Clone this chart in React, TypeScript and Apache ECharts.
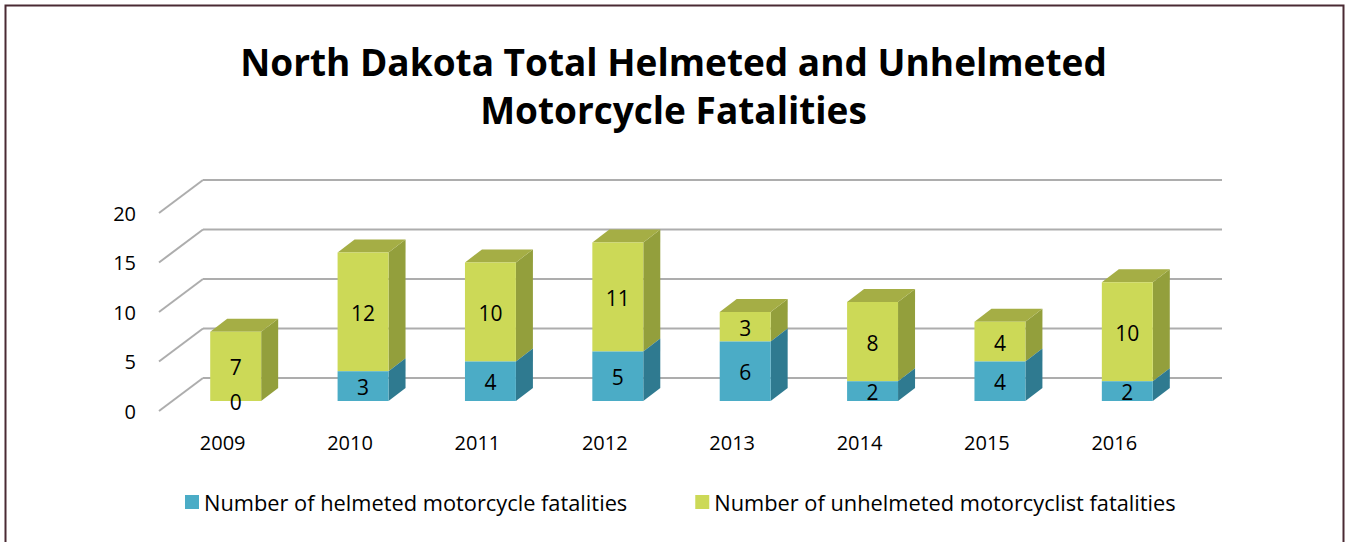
import React, { useEffect, useRef } from "react";
import * as echarts from "echarts";

const years = ["2009", "2010", "2011", "2012", "2013", "2014", "2015", "2016"];
const helmeted = [0, 3, 4, 5, 6, 2, 4, 2];
const unhelmeted = [7, 12, 10, 11, 3, 8, 4, 10];
const yTicks = [0, 5, 10, 15, 20];
const seriesNames = [
  "Number of helmeted motorcycle fatalities",
  "Number of unhelmeted motorcyclist fatalities",
];
const titleText = "North Dakota Total Helmeted and Unhelmeted\nMotorcycle Fatalities";

const FONT = "'Open Sans', 'Noto Sans', sans-serif";
const DEPTH_X = 17;
const DEPTH_Y = -13;
const BACK_DX = 31;
const BACK_DY = -23;
const FRONT_DX = -13;
const FRONT_DY = 10;

const palettes = [
  { front: "#4bacc6", side: "#2f7a90", top: "#3a92ab" },
  { front: "#ccd957", side: "#939f3c", top: "#a5ae45" },
];

function makeBarRender(seriesIdx: number) {
  return (params: any, api: any) => {
    const cat = api.value(0);
    const base = api.value(1);
    const val = api.value(2);
    const p0 = api.coord([cat, base]);
    const p1 = api.coord([cat, base + val]);
    const w = api.size([1, 0])[0] * 0.4;
    const xl = p0[0] - w / 2;
    const xr = p0[0] + w / 2;
    const yb = p0[1];
    const yt = p1[1];
    const pal = palettes[seriesIdx];
    const children: any[] = [];
    if (val > 0) {
      children.push({
        type: "polygon",
        shape: {
          points: [
            [xr, yt],
            [xr + DEPTH_X, yt + DEPTH_Y],
            [xr + DEPTH_X, yb + DEPTH_Y],
            [xr, yb],
          ],
        },
        style: { fill: pal.side },
      });
      if (seriesIdx === 1) {
        children.push({
          type: "polygon",
          shape: {
            points: [
              [xl, yt],
              [xl + DEPTH_X, yt + DEPTH_Y],
              [xr + DEPTH_X, yt + DEPTH_Y],
              [xr, yt],
            ],
          },
          style: { fill: pal.top },
        });
      }
      children.push({
        type: "rect",
        shape: { x: xl, y: yt, width: w, height: yb - yt },
        style: { fill: pal.front },
      });
    }
    children.push({
      type: "text",
      x: p0[0],
      y: (yb + yt) / 2 + 1,
      style: {
        text: String(val),
        fill: "#000",
        font: `21px ${FONT}`,
        align: "center",
        verticalAlign: "middle",
      },
    });
    return { type: "group", children };
  };
}

export default function App() {
  const ref = useRef<HTMLDivElement>(null);
  useEffect(() => {
    document.body.style.margin = "0";
    if (!ref.current) return;
    const chart = echarts.init(ref.current, null, { renderer: "svg" });

    const helmData = years.map((_, i) => [i, 0, helmeted[i]]);
    const unhelmData = years.map((_, i) => [i, helmeted[i], unhelmeted[i]]);

    chart.setOption({
      animation: false,
      backgroundColor: "#fff",
      title: {
        text: titleText,
        left: "center",
        top: 37,
        padding: 0,
        textStyle: {
          fontFamily: FONT,
          fontWeight: "bold",
          fontSize: 37,
          lineHeight: 48,
          color: "#000",
        },
      },
      legend: {
        top: 491,
        left: 185,
        padding: 0,
        itemWidth: 14,
        itemHeight: 14,
        itemGap: 68,
        icon: "rect",
        textStyle: { fontFamily: FONT, fontSize: 21.8, color: "#000" },
        data: seriesNames,
      },
      graphic: [
        {
          type: "rect",
          shape: { x: 5.5, y: 5.5, width: 1338, height: 580 },
          style: { fill: "none", stroke: "#4a2a33", lineWidth: 2 },
          silent: true,
        },
      ],
      grid: [
        { left: 172, right: 156, top: 203, bottom: 141 },
        { left: 159, right: 169, top: 213, bottom: 131 },
      ],
      xAxis: [
        {
          type: "category",
          gridIndex: 0,
          data: years,
          show: false,
        },
        {
          type: "category",
          gridIndex: 1,
          data: years,
          axisLine: { show: false },
          axisTick: { show: false },
          axisLabel: {
            margin: 21,
            fontFamily: FONT,
            fontSize: 20,
            color: "#000",
          },
        },
      ],
      yAxis: [
        {
          type: "value",
          gridIndex: 0,
          min: 0,
          max: 20,
          interval: 5,
          show: false,
        },
        {
          type: "value",
          gridIndex: 1,
          min: 0,
          max: 20,
          interval: 5,
          axisLine: { show: false },
          axisTick: { show: false },
          splitLine: { show: false },
          axisLabel: {
            margin: 23,
            fontFamily: FONT,
            fontSize: 20,
            color: "#000",
          },
        },
      ],
      series: [
        {
          type: "custom",
          name: "grid",
          xAxisIndex: 0,
          yAxisIndex: 0,
          z: 1,
          silent: true,
          data: yTicks.map((v) => [0, v]),
          renderItem: (params: any, api: any) => {
            const cs = params.coordSys;
            const y = api.coord([0, api.value(1)])[1];
            const x0 = cs.x;
            const x1 = cs.x + cs.width;
            const st = { stroke: "#adadad", lineWidth: 2, fill: "none" };
            return {
              type: "group",
              children: [
                {
                  type: "line",
                  shape: { x1: x0 + BACK_DX, y1: y + BACK_DY, x2: x1 + BACK_DX, y2: y + BACK_DY },
                  style: st,
                },
                {
                  type: "line",
                  shape: { x1: x0 + FRONT_DX, y1: y + FRONT_DY, x2: x0 + BACK_DX, y2: y + BACK_DY },
                  style: st,
                },
              ],
            };
          },
        },
        {
          type: "custom",
          name: seriesNames[0],
          xAxisIndex: 0,
          yAxisIndex: 0,
          z: 4,
          itemStyle: { color: palettes[0].front },
          data: helmData,
          renderItem: makeBarRender(0),
        },
        {
          type: "custom",
          name: seriesNames[1],
          xAxisIndex: 0,
          yAxisIndex: 0,
          z: 3,
          itemStyle: { color: palettes[1].front },
          data: unhelmData,
          renderItem: makeBarRender(1),
        },
      ],
    });
    return () => chart.dispose();
  }, []);
  return <div ref={ref} style={{ width: 1347, height: 542 }} />;
}
